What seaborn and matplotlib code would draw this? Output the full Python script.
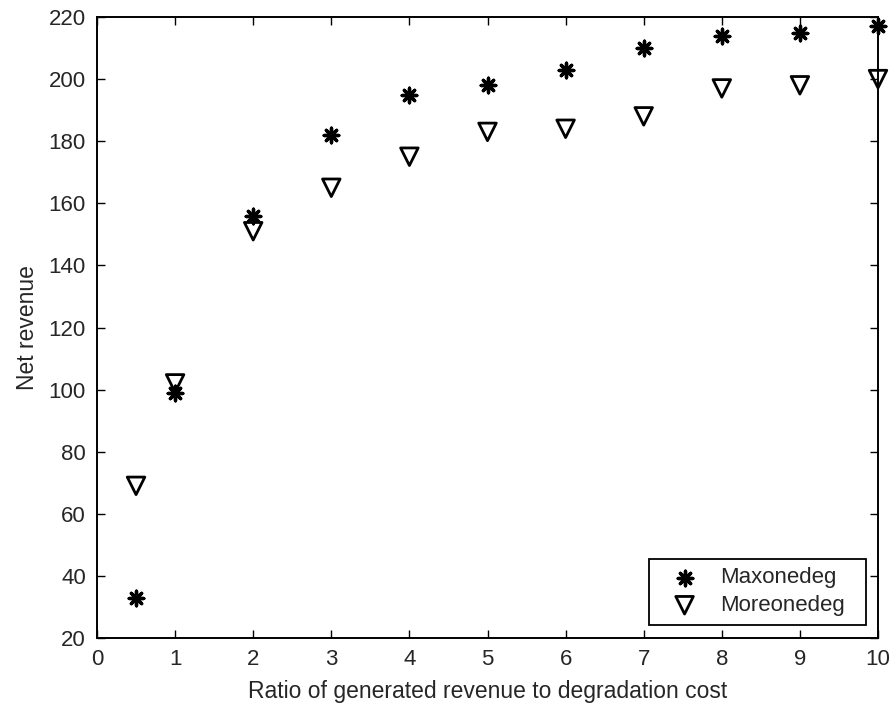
import numpy as np
import pandas as pd
import seaborn as sns
import matplotlib.pyplot as plt

# values
ratio = [0.5, 1, 2, 3, 4, 5, 6, 7, 8, 9, 10]
maxonedeg = [33, 99, 156, 182, 195, 198, 203, 210, 214, 215, 217]
moreonedeg = [69, 102, 151, 165, 175, 183, 184, 188, 197, 198, 200]
x_ticks = list(range(0, 11))
y_ticks = list(range(20, 221, 20))

sns.set_style("ticks")
plt.rcParams['font.family'] = ['Liberation Sans', 'DejaVu Sans']
plt.rcParams['xtick.direction'] = 'in'
plt.rcParams['ytick.direction'] = 'in'

df_max = pd.DataFrame({"ratio": ratio, "revenue": maxonedeg})
df_more = pd.DataFrame({"ratio": ratio, "revenue": moreonedeg})

fig = plt.figure(figsize=(8.9, 7.08), dpi=100)
# axes box: x 97..878 px, y 17..638 px
ax = fig.add_axes([97 / 890, 70 / 708, 781 / 890, 621 / 708])

sns.scatterplot(data=df_max, x="ratio", y="revenue", ax=ax,
                marker=(8, 2, 0), s=110, color="black", linewidth=2.4,
                label="Maxonedeg", clip_on=False, zorder=3)
sns.scatterplot(data=df_more, x="ratio", y="revenue", ax=ax,
                marker="v", s=160, facecolor="none", edgecolor="black",
                linewidth=2.0, label="Moreonedeg", clip_on=False, zorder=3)

ax.set_xlim(0, 10)
ax.set_ylim(20, 220)
ax.set_xticks(x_ticks)
ax.set_yticks(y_ticks)
ax.tick_params(axis="both", which="both", top=True, right=True,
               length=6, width=1, labelsize=16, color="black", pad=8)
for sp in ax.spines.values():
    sp.set_visible(True)
    sp.set_linewidth(1.4)
    sp.set_color("black")

ax.set_xlabel("Ratio of generated revenue to degradation cost", fontsize=16.5, labelpad=7)
ax.set_ylabel("Net revenue", fontsize=16.5, labelpad=7)

leg = ax.legend(loc="lower right", bbox_to_anchor=(0.7068, 0.021, 0.278, 0.1),
                mode="expand", borderaxespad=0, fontsize=16, frameon=True,
                fancybox=False, framealpha=1, edgecolor="black",
                handlelength=2.4, handletextpad=0.4, borderpad=0.4,
                labelspacing=0.3)
leg.get_frame().set_linewidth(1.3)

fig.savefig("out.png", dpi=100)
